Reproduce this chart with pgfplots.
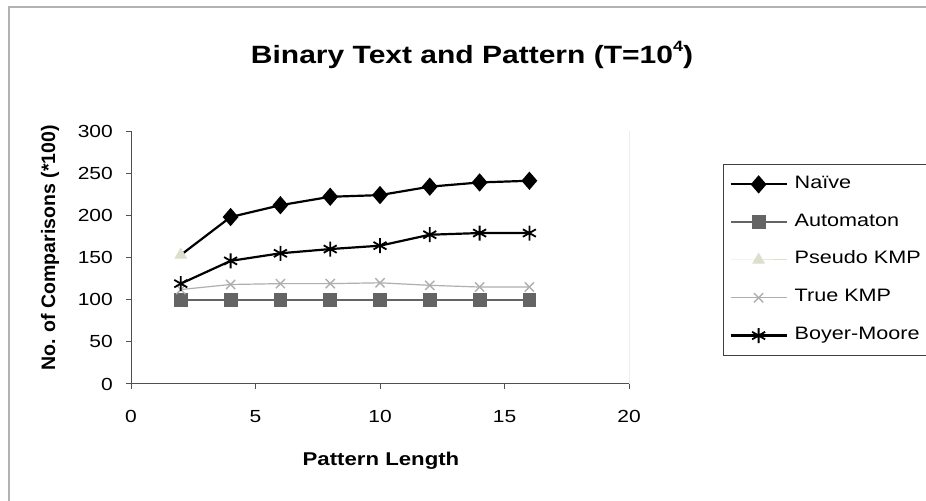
\documentclass[border=0pt]{standalone}
\usepackage{fontspec}
\setmainfont{Liberation Sans}[FakeStretch=1.2]
\newfontfamily\plainsans{Liberation Sans}
\usepackage{pgfplots}
\pgfplotsset{compat=1.18}
\definecolor{autogray}{RGB}{100,100,100}
\definecolor{kmpgray}{RGB}{175,175,175}
\definecolor{pseudocol}{RGB}{222,222,205}
\definecolor{axgray}{RGB}{80,80,80}
\begin{document}
\begin{tikzpicture}
\useasboundingbox (0,0) rectangle (926bp,501bp);
\fill[white] (0,0) rectangle (926bp,501bp);
\draw[gray!60, line width=1.5bp] (9bp,0) -- (9bp,494bp) -- (926bp,494bp);
\begin{axis}[
  at={(131bp,117bp)}, anchor=south west,
  scale only axis, width=498bp, height=253bp,
  xmin=0, xmax=20, ymin=0, ymax=300,
  xtick={0,5,10,15,20}, ytick={0,50,100,150,200,250,300},
  axis lines=left, axis line style={-, axgray, line width=1bp},
  tick align=outside, major tick length=5bp,
  tick style={axgray, line width=1bp},
  /pgf/number format/assume math mode=true,
  ticklabel style={font=\fontsize{17.5bp}{20bp}\selectfont, inner sep=0pt},
  yticklabel style={anchor=east, xshift=-13bp},
  xticklabel style={anchor=north, yshift=-21bp},
  legend image code/.code={\draw[#1, mark indices={2}] plot coordinates {(0bp,0bp) (28bp,0bp) (56bp,0bp)};},
  legend style={at={(rel axis cs:1.1888,0.87)}, anchor=north west,
    draw=black!75, line width=1bp, inner xsep=6bp, inner ysep=12bp,
    font=\fontsize{18bp}{20bp}\selectfont, row sep=21.8bp,
    nodes={inner sep=0pt, text height=12bp, text depth=4bp},
    /tikz/every odd column/.append style={column sep=7bp}},
  legend cell align=left,
  after end axis/.code={\draw[gray!15, line width=1bp] (rel axis cs:1,0) -- (rel axis cs:1,1);},
]
\addplot[black, line width=2.2bp, mark=diamond*, mark size=7.5bp, mark indices={2,3,4,5,6,7,8}, mark options={solid, xscale=1.15}]
  coordinates {(2,153) (4,198) (6,212) (8,222) (10,224) (12,234) (14,239) (16,241)};
\addlegendentry{Naïve}
\addplot[autogray, line width=1.8bp, mark=square*, mark size=6bp, mark options={solid, fill=autogray}]
  coordinates {(2,100) (4,100) (6,100) (8,100) (10,100) (12,100) (14,100) (16,100)};
\addlegendentry{Automaton}
\addplot[pseudocol, line width=1bp, mark=triangle*, mark size=6.5bp, mark options={solid, fill=pseudocol}]
  coordinates {(2,153)};
\addlegendentry{Pseudo KMP}
\addplot[kmpgray, line width=1.2bp, mark=x, mark size=6.5bp, mark options={solid, line width=1.4bp}]
  coordinates {(2,112) (4,118) (6,119) (8,119) (10,120) (12,117) (14,115) (16,115)};
\addlegendentry{True KMP}
\addplot[black, line width=2.2bp, mark=asterisk, mark size=7.5bp, mark options={solid, line width=1.8bp}]
  coordinates {(2,119) (4,146) (6,155) (8,160) (10,164) (12,177) (14,179) (16,179)};
\addlegendentry{Boyer-Moore}
\end{axis}
\node[font=\fontsize{25bp}{28bp}\selectfont\bfseries, inner sep=0pt] at (472bp,446bp)
  {Binary Text and Pattern (T=10\raisebox{0.5em}{\fontsize{15bp}{15bp}\selectfont 4})};
\node[font=\plainsans\fontsize{19.5bp}{22bp}\selectfont\bfseries, rotate=90, inner sep=0pt] at (50bp,253bp)
  {No. of Comparisons (*100)};
\node[font=\fontsize{18.5bp}{21bp}\selectfont\bfseries, inner sep=0pt] at (381bp,40bp)
  {Pattern Length};
\end{tikzpicture}
\end{document}
